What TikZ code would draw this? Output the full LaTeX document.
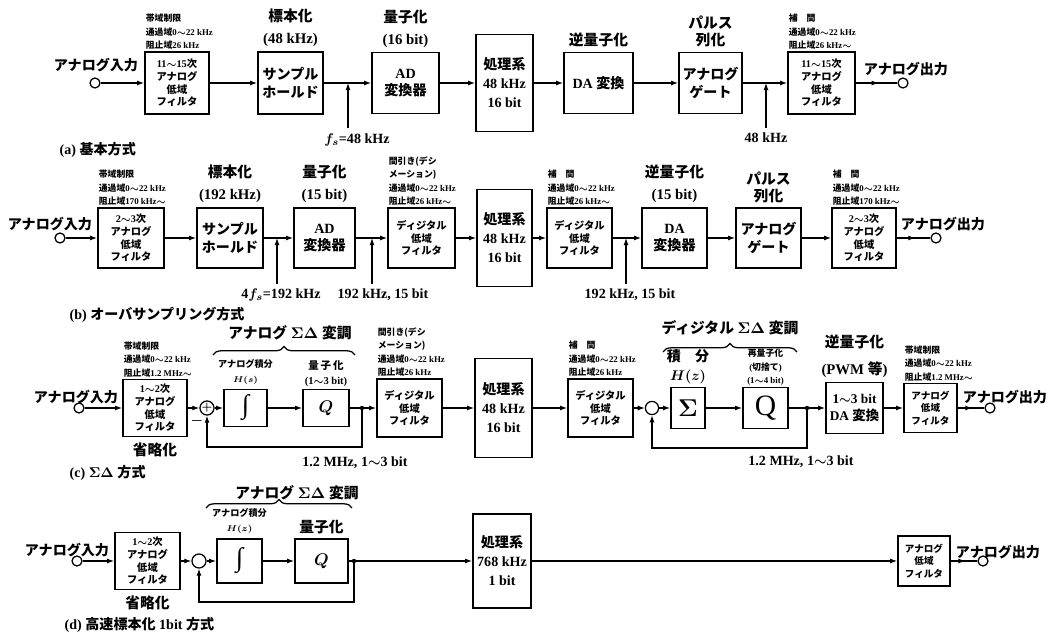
\documentclass[tikz,border=0pt]{standalone}
\usepackage{fontspec}
\setmainfont{Liberation Serif}
\newfontfamily\jp{Noto Sans CJK JP}
\usetikzlibrary{arrows.meta,positioning,calc,decorations.pathreplacing,decorations.markings}
\newcommand{\wave}{$\sim$}

\begin{document}
\begin{tikzpicture}[x=0.025cm, y=-0.025cm,
    ln/.style={line width=0.8pt},
    arr/.style={ln, -{Latex[length=5pt,width=3.5pt]}},
    midarr/.style={postaction={decorate}, decoration={markings,
        mark=at position 0.55 with {\arrow{Latex[length=5pt,width=3.5pt]}}}},
    blk/.style={draw, line width=1.2pt, align=center, inner sep=0pt},
    sz/.style 2 args={minimum width=#1*0.025cm, minimum height=#2*0.025cm},
    term/.style={circle, draw, line width=0.9pt, minimum size=0.25cm, inner sep=0pt},
    dot/.style={circle, fill, minimum size=0.11cm, inner sep=0pt},
    sumc/.style={circle, draw, line width=0.9pt, minimum size=0.33cm, inner sep=0pt},
    brc/.style={line width=0.9pt, decorate, decoration={brace, amplitude=6pt}},
    note/.style={font=\bfseries\boldmath\fontsize{6.3}{9.6}\selectfont, align=left, inner sep=1pt},
    head/.style={font=\bfseries\boldmath\fontsize{10.5}{15.5}\selectfont, align=center, inner sep=1pt},
    lab/.style={font=\bfseries\boldmath\fontsize{10}{12}\selectfont, inner sep=1pt},
    ftxt/.style={font=\bfseries\boldmath\fontsize{7.3}{9}\selectfont},
    btxt/.style={font=\bfseries\boldmath\fontsize{10}{12.5}\selectfont},
    ptxt/.style={font=\bfseries\boldmath\fontsize{10}{13.5}\selectfont},
    itg/.style={font=\fontsize{19}{19}\selectfont}]
  \useasboundingbox (0,0) rectangle (1054,635);

  % (a) basic scheme
  \node[term] (ain) at (95,83) {};
  \node[lab] at (96,65) {{\jp アナログ入力}};
  \node[blk, ftxt, sz={64}{62}] (af1) at (177,83) {11\wave15{\jp 次}\\{\jp アナログ}\\{\jp 低域}\\{\jp フィルタ}};
  \node[note, anchor=south west] at (af1.north west) {{\jp 帯域制限}\\{\jp 通過域}0\wave22 kHz\\{\jp 阻止域}26 kHz};
  \node[blk, btxt, sz={65}{62}] (ash) at (290.5,83) {{\jp サンプル}\\{\jp ホールド}};
  \node[head, above=2pt of ash] {{\jp 標本化}\\(48 kHz)};
  \node[blk, btxt, sz={67}{61}] (aad) at (405.5,83) {AD\\{\jp 変換器}};
  \node[head, above=2pt of aad] {{\jp 量子化}\\(16 bit)};
  \node[blk, ptxt, sz={57}{97}] (apr) at (504.5,83) {{\jp 処理系}\\48 kHz\\16 bit};
  \node[blk, btxt, sz={69}{61}] (ada) at (598.5,83) {DA {\jp 変換}};
  \node[head, above=2pt of ada] {{\jp 逆量子化}};
  \node[blk, btxt, sz={63}{61}] (agt) at (710.5,83) {{\jp アナログ}\\{\jp ゲート}};
  \node[head, above=2pt of agt, font=\bfseries\fontsize{10.5}{12}\selectfont] {{\jp パルス}\\{\jp 列化}};
  \node[blk, ftxt, sz={67}{62}] (af2) at (821.5,83) {11\wave15{\jp 次}\\{\jp アナログ}\\{\jp 低域}\\{\jp フィルタ}};
  \node[note, anchor=south west] at (af2.north west) {{\jp 補\quad 間}\\{\jp 通過域}0\wave22 kHz\\{\jp 阻止域}26 kHz\wave};
  \node[term] (aout) at (903,83) {};
  \node[lab] at (906,69) {{\jp アナログ出力}};
  \coordinate (afs) at (348,128);
  \coordinate (agf) at (766,128);
  \node[lab] at (357,140) {$f_s$=48 kHz};
  \node[lab] at (766,138) {48 kHz};

  \draw[arr] (ain) -- (af1);
  \draw[arr] (af1) -- (ash);
  \draw[arr] (ash) -- (aad);
  \draw[arr] (aad) -- (apr);
  \draw[arr] (apr) -- (ada);
  \draw[arr] (ada) -- (agt);
  \draw[arr] (agt) -- (af2);
  \draw[ln, midarr] (af2) -- (aout);
  \draw[arr] (afs) -- (afs |- ash);
  \draw[arr] (agf) -- (agf |- agt);
  \node[lab, anchor=west] at (58,150) {(a) {\jp 基本方式}};

  % (b) oversampling
  \node[term] (bin) at (60,238) {};
  \node[lab] at (50,224) {{\jp アナログ入力}};
  \node[blk, ftxt, sz={66}{60}] (bf1) at (131,238) {2\wave3{\jp 次}\\{\jp アナログ}\\{\jp 低域}\\{\jp フィルタ}};
  \node[note, anchor=south west] at (bf1.north west) {{\jp 帯域制限}\\{\jp 通過域}0\wave22 kHz\\{\jp 阻止域}170 kHz\wave};
  \node[blk, btxt, sz={66}{60}] (bsh) at (230,238) {{\jp サンプル}\\{\jp ホールド}};
  \node[head, above=2pt of bsh] {{\jp 標本化}\\(192 kHz)};
  \node[blk, btxt, sz={61}{60}] (bad) at (324.5,238) {AD\\{\jp 変換器}};
  \node[head, above=2pt of bad] {{\jp 量子化}\\(15 bit)};
  \node[blk, ftxt, sz={67}{60}] (bdf) at (421.5,238) {{\jp ディジタル}\\{\jp 低域}\\{\jp フィルタ}};
  \node[note, anchor=south west] at (bdf.north west) {{\jp 間引き(デシ}\\{\jp メーション)}\\{\jp 通過域}0\wave22 kHz\\{\jp 阻止域}26 kHz\wave};
  \node[blk, ptxt, sz={55}{97}] (bpr) at (504.5,238) {{\jp 処理系}\\48 kHz\\16 bit};
  \node[blk, ftxt, sz={65}{60}] (bif) at (579.5,238) {{\jp ディジタル}\\{\jp 低域}\\{\jp フィルタ}};
  \node[note, anchor=south west] at (bif.north west) {{\jp 補\quad 間}\\{\jp 通過域}0\wave22 kHz\\{\jp 阻止域}26 kHz\wave};
  \node[blk, btxt, sz={65}{60}] (bda) at (674.5,238) {DA\\{\jp 変換器}};
  \node[head, above=2pt of bda] {{\jp 逆量子化}\\(15 bit)};
  \node[blk, btxt, sz={65}{60}] (bgt) at (768.5,238) {{\jp アナログ}\\{\jp ゲート}};
  \node[head, above=2pt of bgt, font=\bfseries\fontsize{10.5}{12}\selectfont] {{\jp パルス}\\{\jp 列化}};
  \node[blk, ftxt, sz={64}{60}] (bf2) at (864,238) {2\wave3{\jp 次}\\{\jp アナログ}\\{\jp 低域}\\{\jp フィルタ}};
  \node[note, anchor=south west] at (bf2.north west) {{\jp 補\quad 間}\\{\jp 通過域}0\wave22 kHz\\{\jp 阻止域}170 kHz\wave};
  \node[term] (bout) at (936,238) {};
  \node[lab] at (943,224) {{\jp アナログ出力}};
  \coordinate (bfs) at (277,284);
  \coordinate (bdc) at (372,284);
  \coordinate (bip) at (626,284);
  \node[lab] at (281,295) {4$f_s$=192 kHz};
  \node[lab] at (383,295) {192 kHz, 15 bit};
  \node[lab] at (630,295) {192 kHz, 15 bit};

  \draw[arr] (bin) -- (bf1);
  \draw[arr] (bf1) -- (bsh);
  \draw[arr] (bsh) -- (bad);
  \draw[arr] (bad) -- (bdf);
  \draw[arr] (bdf) -- (bpr);
  \draw[arr] (bpr) -- (bif);
  \draw[arr] (bif) -- (bda);
  \draw[arr] (bda) -- (bgt);
  \draw[arr] (bgt) -- (bf2);
  \draw[ln, midarr] (bf2) -- (bout);
  \draw[arr] (bfs) -- (bfs |- bsh);
  \draw[arr] (bdc) -- (bdc |- bad);
  \draw[arr] (bip) -- (bip |- bif);
  \node[lab, anchor=west] at (68,315) {(b) {\jp オーバサンプリング方式}};

  % (c) sigma-delta
  \node[term] (cin) at (79,408) {};
  \node[lab] at (76,397) {{\jp アナログ入力}};
  \node[blk, ftxt, sz={64}{57}] (cf1) at (155,408) {1\wave2{\jp 次}\\{\jp アナログ}\\{\jp 低域}\\{\jp フィルタ}};
  \node[note, anchor=south west] at (cf1.north west) {{\jp 帯域制限}\\{\jp 通過域}0\wave22 kHz\\{\jp 阻止域}1.2 MHz\wave};
  \node[head, below=3pt of cf1] {{\jp 省略化}};
  \node[sumc, font=\footnotesize\boldmath] (csum) at (207,408) {$+$};
  \node[lab] at (197,421) {$-$};
  \node[blk, itg, sz={43}{37}] (cint) at (245.5,408) {∫};
  \node[note, align=center, anchor=south, yshift=2pt, font=\bfseries\boldmath\fontsize{6.5}{10.5}\selectfont] at (cint.north) {{\jp アナログ積分}\\$H(s)$};
  \node[blk, sz={46}{37}, font=\boldmath\fontsize{12}{12}\selectfont] (cq) at (326,408) {$Q$};
  \node[note, align=center, anchor=south, font=\bfseries\boldmath\fontsize{7.5}{10.5}\selectfont] at (cq.north) {{\jp 量\,子\,化}\\(1\wave3 bit)};
  \draw[brc] (213,355) -- (355,355);
  \node[head] at (290,333) {{\jp アナログ} $\Sigma\Delta$ {\jp 変調}};
  \node[dot] (cj1) at (362,408) {};
  \coordinate (cfb1) at (csum |- 0,447);
  \node[lab] at (355,463) {1.2 MHz, 1\wave3 bit};
  \node[blk, ftxt, sz={65}{58}] (cdf) at (409.5,408) {{\jp ディジタル}\\{\jp 低域}\\{\jp フィルタ}};
  \node[note, anchor=south west] at (cdf.north west) {{\jp 間引き(デシ}\\{\jp メーション)}\\{\jp 通過域}0\wave22 kHz\\{\jp 阻止域}26 kHz};
  \node[blk, ptxt, sz={57}{99}] (cpr) at (503.5,408) {{\jp 処理系}\\48 kHz\\16 bit};
  \node[blk, ftxt, sz={65}{58}] (cif) at (600.5,408) {{\jp ディジタル}\\{\jp 低域}\\{\jp フィルタ}};
  \node[note, anchor=south west] at (cif.north west) {{\jp 補\quad 間}\\{\jp 通過域}0\wave22 kHz\\{\jp 阻止域}26 kHz};
  \node[sumc] (csum2) at (652,408) {};
  \node[blk, sz={34}{41}, font=\boldmath\fontsize{18}{18}\selectfont] (csg) at (688,408) {$\Sigma$};
  \node[head, above=1pt of csg, font=\bfseries\boldmath\fontsize{10}{13.5}\selectfont] {{\jp 積\quad 分}\\$H(z)$};
  \node[blk, sz={45}{41}, font=\fontsize{21}{21}\selectfont] (cq2) at (765.5,408) {Q};
  \node[note, align=center, anchor=south, font=\bfseries\boldmath\fontsize{6.3}{9.3}\selectfont] at (cq2.north) {{\jp 再量子化}\\({\jp 切捨て})\\(1\wave4 bit)};
  \draw[brc] (663,352) -- (797,352);
  \node[head] at (730,328) {{\jp ディジタル} $\Sigma\Delta$ {\jp 変調}};
  \node[dot] (cj2) at (807,408) {};
  \coordinate (cfb2) at (csum2 |- 0,448);
  \node[lab] at (801,462) {1.2 MHz, 1\wave3 bit};
  \node[blk, font=\bfseries\boldmath\fontsize{9.5}{12.5}\selectfont, sz={57}{51}] (cda) at (854.5,408) {1\wave3 bit\\DA {\jp 変換}};
  \node[head, above=2pt of cda] {{\jp 逆量子化}\\[3pt](PWM {\jp 等})};
  \node[blk, font=\bfseries\fontsize{6.8}{9}\selectfont, sz={53}{49}] (cf2) at (930.5,408) {{\jp アナログ}\\{\jp 低域}\\{\jp フィルタ}};
  \node[note, anchor=south west] at (cf2.north west) {{\jp 帯域制限}\\{\jp 通過域}0\wave22 kHz\\{\jp 阻止域}1.2 MHz\wave};
  \node[term] (cout) at (990,408) {};
  \node[lab] at (1005,397) {{\jp アナログ出力}};

  \draw[arr] (cin) -- (cf1);
  \draw[arr] (cf1) -- (csum);
  \draw[arr] (csum) -- (cint);
  \draw[arr] (cint) -- (cq);
  \draw[ln] (cq) -- (cj1);
  \draw[arr] (cj1) -- (cdf);
  \draw[arr] (cj1) |- (cfb1) -- (csum);
  \draw[arr] (cdf) -- (cpr);
  \draw[arr] (cpr) -- (cif);
  \draw[arr] (cif) -- (csum2);
  \draw[arr] (csum2) -- (csg);
  \draw[arr] (csg) -- (cq2);
  \draw[ln] (cq2) -- (cj2);
  \draw[arr] (cj2) -- (cda);
  \draw[arr] (cj2) |- (cfb2) -- (csum2);
  \draw[arr] (cda) -- (cf2);
  \draw[ln, midarr] (cf2) -- (cout);
  \node[lab, anchor=west] at (68,473) {(c) $\Sigma\Delta$ {\jp 方式}};

  % (d) fast sampling 1 bit
  \node[term] (din) at (77,561) {};
  \node[lab] at (67,550) {{\jp アナログ入力}};
  \node[blk, ftxt, sz={65}{57}] (df1) at (147.5,561) {1\wave2{\jp 次}\\{\jp アナログ}\\{\jp 低域}\\{\jp フィルタ}};
  \node[head, below=3pt of df1] {{\jp 省略化}};
  \node[sumc, minimum size=0.35cm] (dsum) at (199,561) {};
  \node[blk, itg, sz={45}{44}] (dint) at (239.5,561) {∫};
  \node[note, align=center, anchor=south, yshift=2pt, font=\bfseries\boldmath\fontsize{6.5}{10.5}\selectfont] at (dint.north) {{\jp アナログ積分}\\$H(z)$};
  \node[blk, sz={53}{44}, font=\boldmath\fontsize{12}{12}\selectfont] (dq) at (321.5,561) {$Q$};
  \node[head, above=2pt of dq] {{\jp 量子化}};
  \draw[brc] (206,508) -- (352,508);
  \node[head] at (297,493) {{\jp アナログ} $\Sigma\Delta$ {\jp 変調}};
  \node[dot] (dj) at (354,561) {};
  \coordinate (dfb) at (dsum |- 0,602);
  \node[blk, ptxt, sz={58}{94}] (dpr) at (502,561) {{\jp 処理系}\\768 kHz\\1 bit};
  \node[blk, font=\bfseries\fontsize{6.8}{9}\selectfont, sz={52}{50}] (df2) at (924,561) {{\jp アナログ}\\{\jp 低域}\\{\jp フィルタ}};
  \node[term] (dout) at (983,561) {};
  \node[lab] at (998,552) {{\jp アナログ出力}};

  \draw[arr] (din) -- (df1);
  \draw[arr] (df1) -- (dsum);
  \draw[arr] (dsum) -- (dint);
  \draw[arr] (dint) -- (dq);
  \draw[ln] (dq) -- (dj);
  \draw[arr] (dj) -- (dpr);
  \draw[arr] (dj) |- (dfb) -- (dsum);
  \draw[arr] (dpr) -- (df2);
  \draw[ln, midarr] (df2) -- (dout);
  \node[lab, anchor=west] at (63,625) {(d) {\jp 高速標本化} 1bit {\jp 方式}};
\end{tikzpicture}
\end{document}
